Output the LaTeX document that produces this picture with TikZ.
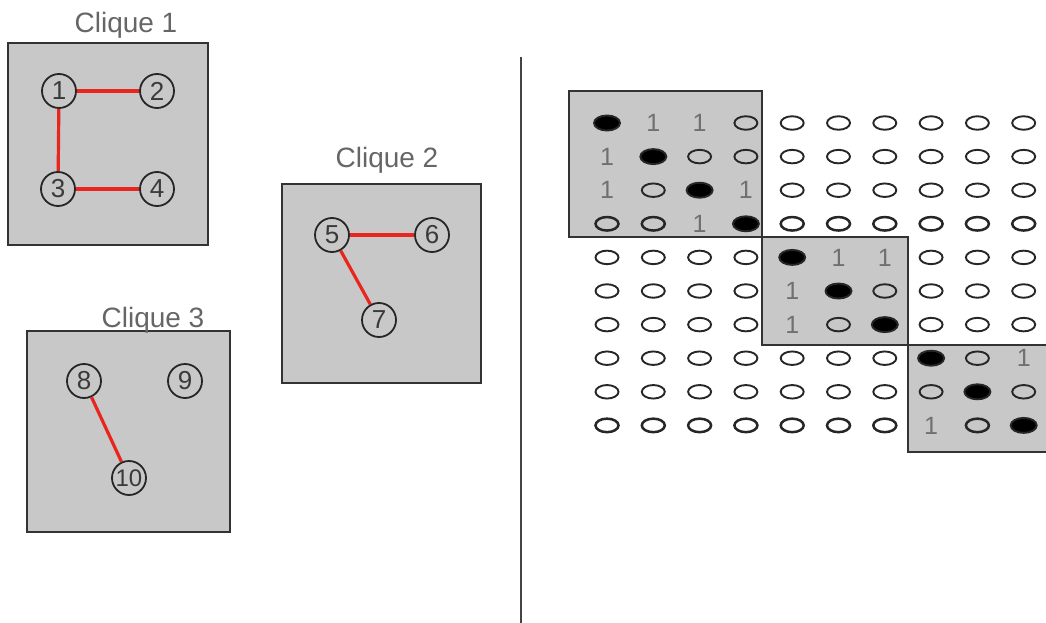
\documentclass[tikz,border=0pt]{standalone}
\usepackage{fontspec}
\setmainfont{Liberation Sans}
\usetikzlibrary{shapes.geometric}
\definecolor{boxfill}{HTML}{C8C8C8}
\definecolor{boxline}{HTML}{333333}
\definecolor{edgered}{HTML}{E8261E}
\definecolor{labgray}{HTML}{666666}
\definecolor{numgray}{HTML}{3A3A3A}
\definecolor{onegray}{HTML}{707070}
\definecolor{sepgray}{HTML}{444444}
\begin{document}
\begin{tikzpicture}[x=1pt,y=-1pt,
  cbox/.style={draw=boxline, fill=boxfill, line width=2.8pt},
  vtx/.style={circle, draw=black!85, line width=1.8pt, minimum size=34pt, inner sep=0pt, font=\fontsize{26}{26}\selectfont, text=numgray},
  redge/.style={draw=edgered, line width=3.2pt},
  cliquelab/.style={font=\fontsize{28}{28}\selectfont, text=labgray, anchor=base, inner sep=0pt},
  ov/.style={ellipse, draw=black!85, line width=1.9pt, minimum width=23pt, minimum height=13.5pt, inner sep=0pt},
  fov/.style={ov, fill=black, minimum width=26pt, minimum height=15pt},
  oneent/.style={font=\fontsize{25}{25}\selectfont, text=onegray, inner sep=0pt}
]
\useasboundingbox (0,0) rectangle (1046,623);
\clip (0,0) rectangle (1046,623);

% ---- Clique 1
\draw[cbox] (8,43) rectangle (208,245);
\node[cliquelab] (cap1) at (126,33) {Clique 1};
\node[vtx] (n1) at (59,91) {1};
\node[vtx] (n2) at (157,91) {2};
\node[vtx] (n3) at (58,189) {3};
\node[vtx] (n4) at (157,189) {4};
\draw[redge] (n1) -- (n2);
\draw[redge] (n1) -- (n3);
\draw[redge] (n3) -- (n4);

% ---- Clique 2
\draw[cbox] (282,184) rectangle (481,383);
\node[cliquelab] (cap2) at (387,167) {Clique 2};
\node[vtx] (n5) at (332,235) {5};
\node[vtx] (n6) at (432,235) {6};
\node[vtx] (n7) at (379,320) {7};
\draw[redge] (n5) -- (n6);
\draw[redge] (n5) -- (n7);

% ---- Clique 3
\draw[cbox] (27,331) rectangle (230,532);
\node[cliquelab] (cap3) at (153,327) {Clique 3};
\node[vtx] (n8) at (84,381) {8};
\node[vtx] (n9) at (185,381) {9};
\node[vtx, font=\fontsize{24}{24}\selectfont] (n10) at (129,478) {10};
\draw[redge] (n8) -- (n10);

% ---- separator
\coordinate (s1) at (521,57);
\coordinate (s2) at (521,623);
\draw[sepgray, line width=2.5pt] (s1) -- (s2);

% ---- matrix blocks
\draw[cbox] (569,91) rectangle (762,237);
\draw[cbox] (762,237) rectangle (908,345);
\draw[cbox] (908,345) rectangle (1060,452);

\foreach \r/\rw/\lw in {
   1/{b,1,1,o,o,o,o,o,o,o}/1.9pt,
   2/{1,b,o,o,o,o,o,o,o,o}/1.9pt,
   3/{1,o,b,1,o,o,o,o,o,o}/1.9pt,
   4/{o,o,1,b,o,o,o,o,o,o}/2.5pt,
   5/{o,o,o,o,b,1,1,o,o,o}/1.9pt,
   6/{o,o,o,o,1,b,o,o,o,o}/1.9pt,
   7/{o,o,o,o,1,o,b,o,o,o}/1.9pt,
   8/{o,o,o,o,o,o,o,b,o,1}/1.9pt,
   9/{o,o,o,o,o,o,o,o,b,o}/1.9pt,
   10/{o,o,o,o,o,o,o,1,o,b}/2.5pt}{
  \edef\rwx{\rw}
  \foreach \v [count=\c] in \rwx {
    \pgfmathsetmacro{\px}{607+46.3*(\c-1)}
    \pgfmathsetmacro{\py}{123+33.6*(\r-1)}
    \if\v1
      \node[oneent] (m-\r-\c) at (\px,\py) {1};
    \else
      \if\v b
        \node[fov] (m-\r-\c) at (\px,\py) {};
      \else
        \node[ov, line width=\lw] (m-\r-\c) at (\px,\py) {};
      \fi
    \fi
  }
}
\end{tikzpicture}
\end{document}
